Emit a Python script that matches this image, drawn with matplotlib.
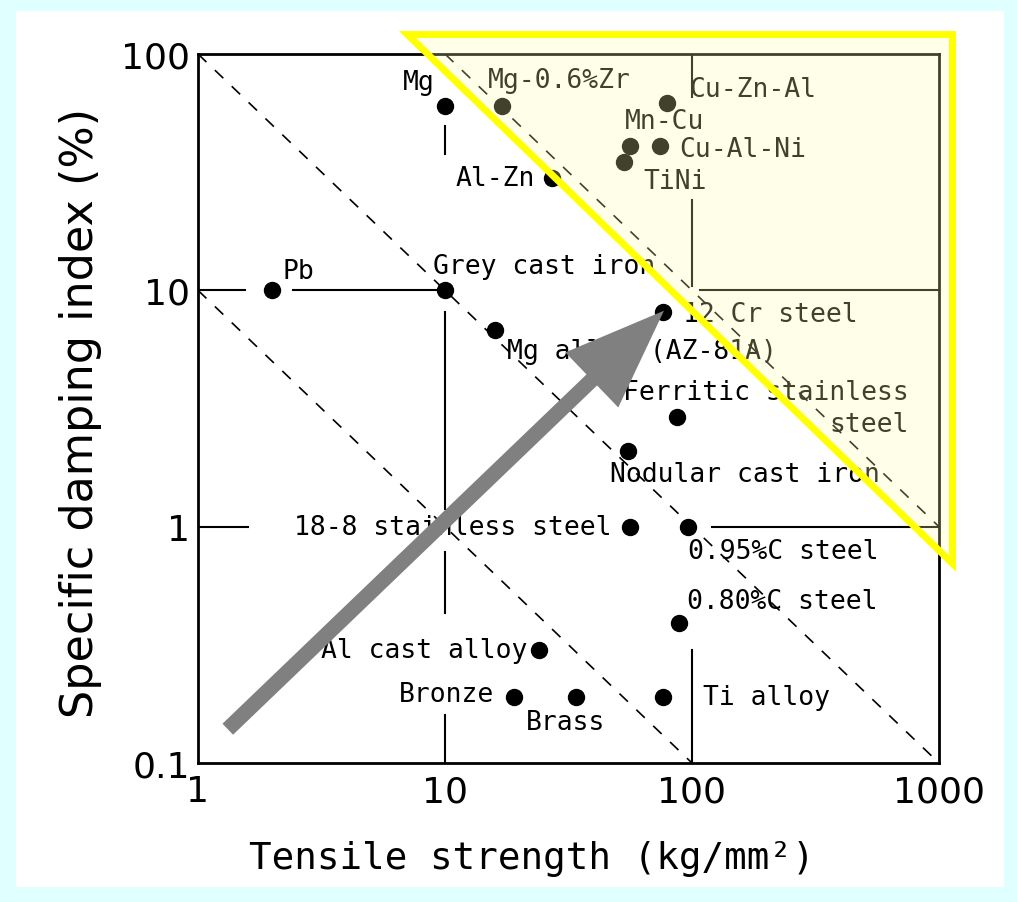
import numpy as np
import matplotlib
matplotlib.use('Agg')
from matplotlib import pyplot as plt
from matplotlib.patches import Polygon, Rectangle
from matplotlib.ticker import NullLocator

# materials: tensile strength (kg/mm2) vs specific damping index (%)
materials = ['Mg', 'Mg-0.6%Zr', 'Al-Zn', 'Cu-Zn-Al', 'Mn-Cu', 'Cu-Al-Ni', 'TiNi',
             'Pb', 'Grey cast iron', 'Mg alloy (AZ-81A)', '12 Cr steel',
             'Ferritic stainless\nsteel', 'Nodular cast iron', '18-8 stainless steel',
             '0.95%C steel', '0.80%C steel', 'Al cast alloy', 'Bronze', 'Brass', 'Ti alloy']
tensile = [10, 17, 27, 79, 56, 74, 53, 2, 10, 16, 76, 87, 55, 56, 96, 89, 24, 19, 34, 76]
damping = [60, 60, 30, 62, 41, 41, 35, 10, 10, 6.8, 8.1, 2.9, 2.1, 1.0, 1.0, 0.39, 0.30, 0.19, 0.19, 0.19]

# lines of constant tensile*damping
products = [10, 100, 1000]

# pieces of the decade grid left in the original drawing
vert_segs = [(10, 0.1, 0.16), (10, 0.43, 0.78), (10, 1.19, 8.1), (10, 37.8, 49.5),
             (100, 0.1, 0.30), (100, 10.4, 24), (100, 66, 100)]
horiz_segs = [(10, 1, 1.55), (10, 2.43, 10), (10, 108, 1000),
              (1, 1, 1.6), (1, 121, 1000)]

xticks = [1, 10, 100, 1000]
yticks = [0.1, 1, 10, 100]

# label placement (pixels from the dot) and alignment
label_off = [(-10, 24), (-14, 26), (-17, 0), (23, 14), (-5, 25), (20, -3), (19, -19),
             (10, 19), (-12, 24), (12, -21), (20, -2), (-54, 9), (-18, -23), (-18, 0),
             (0, -24), (8, 22), (-12, 0), (-20, 3), (-50, -25), (40, 0)]
label_ha = ['right', 'left', 'right', 'left', 'left', 'left', 'left',
            'left', 'left', 'left', 'left', 'left', 'left', 'right',
            'left', 'left', 'right', 'right', 'left', 'left']

fig = plt.figure(figsize=(10.17, 9.03), dpi=100, facecolor='#e0ffff')
fig.add_artist(Rectangle((16/1017, 15/903), 988/1017, 876/903, transform=fig.transFigure,
                         facecolor='white', edgecolor='none', zorder=-1))
ax = fig.add_axes([198/1017, 139/903, 741/1017, 709/903])
ax.set_xscale('log'); ax.set_yscale('log')
ax.set_xlim(1, 1000); ax.set_ylim(0.1, 100)

for c in products:
    xx = np.array([max(1, c/100), min(1000, c/0.1)])
    ax.plot(xx, c/xx, color='black', lw=1.2, ls=(0, (7, 7)), zorder=2)

for x, y0, y1 in vert_segs:
    ax.plot([x, x], [y0, y1], color='black', lw=1.5, zorder=2)
for y, x0, x1 in horiz_segs:
    ax.plot([x0, x1], [y, y], color='black', lw=1.5, zorder=2)

ax.plot(tensile, damping, 'o', color='black', ms=11.5, zorder=3)

for i, name in enumerate(materials):
    ax.annotate(name, (tensile[i], damping[i]), xytext=label_off[i], textcoords='offset pixels',
                ha=label_ha[i], va='center', multialignment='right', linespacing=1.3,
                family='DejaVu Sans Mono', fontsize=19, zorder=4)

# grey arrow pointing at 12 Cr steel
ax.annotate('', xy=(77, 8.2), xytext=(1.32, 0.139),
            arrowprops=dict(width=11, headwidth=55, headlength=72, shrink=0,
                            facecolor='#808080', edgecolor='none'), zorder=6)

# yellow highlighted triangle
tri = Polygon([(7.0, 121.5), (1130, 121.5), (1130, 0.7)], closed=True,
              facecolor=(1, 1, 0.67, 0.26), edgecolor='#ffff00', lw=5,
              joinstyle='miter', clip_on=False, zorder=10)
ax.add_patch(tri)

ax.set_xticks(xticks); ax.set_xticklabels(['1', '10', '100', '1000'])
ax.set_yticks(yticks); ax.set_yticklabels(['0.1', '1', '10', '100'])
ax.xaxis.set_minor_locator(NullLocator()); ax.yaxis.set_minor_locator(NullLocator())
ax.tick_params(length=0, labelsize=26)
ax.tick_params(axis='x', pad=8)
ax.tick_params(axis='y', pad=6)
for s in ax.spines.values():
    s.set_linewidth(2)

ax.set_xlabel('Tensile strength (kg/mm²)', family='DejaVu Sans Mono', fontsize=27)
ax.xaxis.set_label_coords(0.45, -0.108)
ax.set_ylabel('Specific damping index (%)', fontsize=32)
ax.yaxis.set_label_coords(-0.13, 0.495)

fig.savefig('out.png', dpi=100, facecolor=fig.get_facecolor())
